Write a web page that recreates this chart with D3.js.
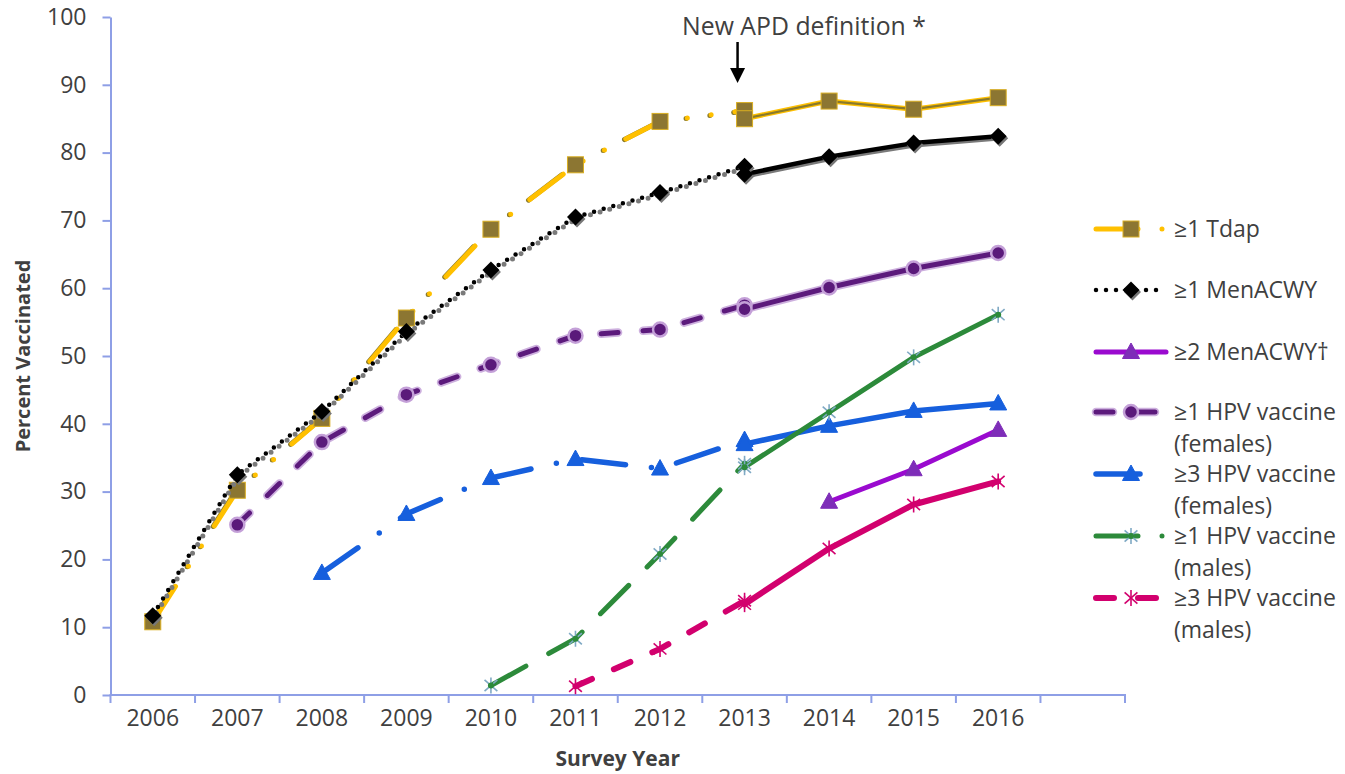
<!DOCTYPE html>
<html>
<head>
<meta charset="utf-8">
<script src="https://cdn.jsdelivr.net/npm/d3@7/dist/d3.min.js"></script>
<style>
  body { margin: 0; background: #ffffff; }
  text { font-family: "Open Sans", "Liberation Sans", sans-serif; fill: #404040; }
</style>
</head>
<body>
<svg id="chart" width="1345" height="774"></svg>
<script>
// ---------------- DATA ----------------
const years = ["2006","2007","2008","2009","2010","2011","2012","2013","2014","2015","2016"];
const categories = years.concat([" "]);          // one empty category at the right end
const yTickValues = [0,10,20,30,40,50,60,70,80,90,100];
const oldYears = years.slice(0, 8);               // 2006-2013, previous APD definition
const newYears = years.slice(7);                  // 2013-2016, new APD definition

const tdapOld   = [10.8, 30.2, 40.8, 55.6, 68.7, 78.2, 84.6, 86.2];
const tdapNew   = [85.0, 87.6, 86.4, 88.1];
const menOld    = [11.7, 32.5, 41.8, 53.6, 62.7, 70.5, 74.1, 78.0];
const menNew    = [76.8, 79.4, 81.4, 82.4];
const men2Years = ["2014","2015","2016"];
const men2New   = [28.5, 33.3, 39.1];
const hpvFOld   = [null, 25.1, 37.3, 44.3, 48.7, 53.0, 53.9, 57.5];
const hpvFNew   = [56.9, 60.1, 62.9, 65.2];
const hpv3FOld  = [null, null, 18.0, 26.7, 32.0, 34.8, 33.4, 37.6];
const hpv3FNew  = [37.0, 39.7, 41.9, 43.0];
const hpvMOld   = [null, null, null, null, 1.4, 8.3, 20.8, 34.1];
const hpvMNew   = [33.6, 41.7, 49.8, 56.1];
const hpv3MOld  = [null, null, null, null, null, 1.3, 6.8, 13.9];
const hpv3MNew  = [13.4, 21.6, 28.1, 31.5];

const legendLabels = [
  ["≥1 Tdap"],
  ["≥1 MenACWY"],
  ["≥2 MenACWY†"],
  ["≥1 HPV vaccine", "(females)"],
  ["≥3 HPV vaccine", "(females)"],
  ["≥1 HPV vaccine", "(males)"],
  ["≥3 HPV vaccine", "(males)"]
];
const annotationText = "New APD definition *";
const annotationYear = "2013";

// ---------------- SERIES STYLES ----------------
const zip = (ys, vs) => ys.map((yr, i) => ({ year: yr, v: vs[i] }));
const series = [
  { name: legendLabels[0], old: zip(oldYears, tdapOld), nw: zip(newYears, tdapNew),
    color: "#FFC000", core: "#8A7A2C", width: 5, dash: "42,24,0,24,0,24", marker: "square",
    mFill: "#8C7632", mStroke: "#D9AE22" },
  { name: legendLabels[1], old: zip(oldYears, menOld), nw: zip(newYears, menNew),
    color: "#000000", shadow: "#7a7a7a", width: 4.5, dash: "0,10", marker: "diamond",
    mFill: "#000000", mStroke: "#000000" },
  { name: legendLabels[2], old: [], nw: zip(men2Years, men2New),
    color: "#9A0ACF", width: 5, dash: null, marker: "triangle",
    mFill: "#7E2DB8", mStroke: "#7E2DB8" },
  { name: legendLabels[3], old: zip(oldYears, hpvFOld), nw: zip(newYears, hpvFNew),
    color: "#5C1A7C", glow: "#CDB0DE", width: 5, dash: "17,25", marker: "circle",
    mFill: "#5A1A7A", mStroke: "#C4A0D8" },
  { name: legendLabels[4], old: zip(oldYears, hpv3FOld), nw: zip(newYears, hpv3FNew),
    color: "#165FDD", width: 5.5, dash: "44,26,0,26", marker: "triangle",
    mFill: "#165FDD", mStroke: "#165FDD" },
  { name: legendLabels[5], old: zip(oldYears, hpvMOld), nw: zip(newYears, hpvMNew),
    color: "#2C8A3A", width: 5, dash: "40,26", legendDash: "42,24,0,30", marker: "star",
    mFill: "#2C8A3A", mStroke: "#7FA9C4" },
  { name: legendLabels[6], old: zip(oldYears, hpv3MOld), nw: zip(newYears, hpv3MNew),
    color: "#D2006E", width: 6, dash: "18,24", marker: "star",
    mFill: "#D2006E", mStroke: "#D2006E" }
];

// ---------------- LAYOUT ----------------
const svg = d3.select("#chart");
const axisColor = "#8E9FE6";
const plot = { left: 110.5, right: 1125, top: 17, bottom: 695 };

const x = d3.scaleBand().domain(categories).range([plot.left, plot.right]).paddingInner(0).paddingOuter(0);
const y = d3.scaleLinear().domain([0, 100]).range([plot.bottom, plot.top]);
const cx = yr => x(yr) + x.bandwidth() / 2;

// Y axis
const yAxis = svg.append("g").attr("transform", `translate(${plot.left},0)`)
  .call(d3.axisLeft(y).tickValues(yTickValues).tickSize(8).tickPadding(16).tickSizeOuter(0));
yAxis.select(".domain").attr("stroke", axisColor).attr("stroke-width", 2);
yAxis.selectAll(".tick line").attr("stroke", axisColor).attr("stroke-width", 2);
yAxis.selectAll(".tick text").attr("font-size", 23).attr("font-family", "Open Sans").attr("fill", "#404040");

// X axis (labels centered in bands, ticks on band boundaries)
const xAxis = svg.append("g").attr("transform", `translate(0,${plot.bottom})`)
  .call(d3.axisBottom(x).tickSize(0).tickPadding(15).tickSizeOuter(0));
xAxis.select(".domain").remove();
xAxis.selectAll(".tick text").attr("font-size", 23).attr("font-family", "Open Sans").attr("fill", "#404040");
const boundaries = categories.map(c => x(c)).concat([plot.right]);
svg.append("g").selectAll("line").data(boundaries).join("line")
  .attr("x1", d => d).attr("x2", d => d)
  .attr("y1", plot.bottom).attr("y2", plot.bottom + 8)
  .attr("stroke", axisColor).attr("stroke-width", 2);
svg.append("line").attr("x1", plot.left - 1).attr("x2", plot.right + 1)
  .attr("y1", plot.bottom).attr("y2", plot.bottom)
  .attr("stroke", axisColor).attr("stroke-width", 2);

// Axis titles
svg.append("text").attr("transform", `translate(30,${(plot.top + plot.bottom) / 2}) rotate(-90)`)
  .attr("text-anchor", "middle").attr("font-size", 20).attr("font-weight", "bold")
  .text("Percent Vaccinated");
svg.append("text").attr("x", (plot.left + plot.right) / 2).attr("y", 766)
  .attr("text-anchor", "middle").attr("font-size", 21).attr("font-weight", "bold")
  .text("Survey Year");

// ---------------- LINES ----------------
const line = d3.line().defined(d => d.v != null).x(d => cx(d.year)).y(d => y(d.v));

function drawPath(g, data, s, dash) {
  const pts = data.filter(d => d.v != null);
  if (pts.length < 2) return;
  const dstr = line(pts);
  const mk = (stroke, w, da, off, tr) => {
    const p = g.append("path").attr("d", dstr).attr("fill", "none")
      .attr("stroke", stroke).attr("stroke-width", w)
      .attr("stroke-linecap", "round").attr("stroke-linejoin", "round");
    if (da) p.attr("stroke-dasharray", da);
    if (off) p.attr("stroke-dashoffset", off);
    if (tr) p.attr("transform", tr);
    return p;
  };
  if (s.glow) mk(s.glow, s.width + 3.5, dash);
  if (s.shadow) mk(s.shadow, s.width + 0.5, dash, dash ? 5 : null, "translate(1.2,1.8)");
  if (s.core && dash) mk(s.core, s.width, dash, null, "translate(-1.3,0.6)");
  mk(s.color, s.width, dash);
  if (s.core && !dash) mk(s.core, 2.2, null);
}

function drawMarker(g, type, px, py, s) {
  if (type === "square") {
    g.append("rect").attr("x", px - 8).attr("y", py - 8).attr("width", 16).attr("height", 16)
      .attr("fill", s.mFill).attr("stroke", s.mStroke).attr("stroke-width", 1);
  } else if (type === "diamond") {
    const dpath = `M${px},${py - 8.5}L${px + 8.5},${py}L${px},${py + 8.5}L${px - 8.5},${py}Z`;
    g.append("path").attr("d", dpath).attr("fill", "#777").attr("transform", "translate(1.5,2)");
    g.append("path").attr("d", dpath).attr("fill", s.mFill);
  } else if (type === "circle") {
    g.append("circle").attr("cx", px).attr("cy", py).attr("r", 7)
      .attr("fill", s.mFill).attr("stroke", s.mStroke).attr("stroke-width", 2.5);
  } else if (type === "triangle") {
    g.append("path").attr("d", `M${px},${py - 9}L${px + 8.5},${py + 6.5}L${px - 8.5},${py + 6.5}Z`)
      .attr("fill", s.mFill).attr("stroke", s.mStroke).attr("stroke-width", 1);
  } else if (type === "star") {
    const r = 8;
    const segs = [[0, -r, 0, r], [-r * 0.8, -r * 0.7, r * 0.8, r * 0.7], [-r * 0.8, r * 0.7, r * 0.8, -r * 0.7]];
    g.selectAll(null).data(segs).join("line")
      .attr("x1", d => px + d[0]).attr("y1", d => py + d[1])
      .attr("x2", d => px + d[2]).attr("y2", d => py + d[3])
      .attr("stroke", s.mStroke).attr("stroke-width", 1.6);
    if (s.mStroke !== s.mFill) {
      g.append("circle").attr("cx", px).attr("cy", py).attr("r", 3).attr("fill", s.mFill);
    }
  }
}

const seriesG = svg.append("g");
series.forEach(s => {
  const g = seriesG.append("g");
  drawPath(g, s.old, s, s.dash);
  drawPath(g, s.nw, s, null);
  s.old.concat(s.nw).filter(d => d.v != null).forEach(d => drawMarker(g, s.marker, cx(d.year), y(d.v), s));
});

// ---------------- ANNOTATION ----------------
const ax = cx(annotationYear) - 7;
svg.append("text").attr("x", 804).attr("y", 35).attr("text-anchor", "middle")
  .attr("font-size", 24.8).text(annotationText);
svg.append("line").attr("x1", ax).attr("x2", ax).attr("y1", 42).attr("y2", 70)
  .attr("stroke", "#000").attr("stroke-width", 2.5);
svg.append("path").attr("d", `M${ax - 7.5},68L${ax + 7.5},68L${ax},83Z`).attr("fill", "#000");

// ---------------- LEGEND ----------------
const legendRows = [229, 290, 352, 412, 474, 536, 598];
const lg = svg.append("g");
series.forEach((s, i) => {
  const ly = legendRows[i];
  const g = lg.append("g");
  const lineData = [{ px: 1096, py: ly }, { px: 1166, py: ly }];
  const ld = d3.line().x(d => d.px).y(d => d.py)(lineData);
  const da = s.legendDash || s.dash;
  if (s.glow) g.append("path").attr("d", ld).attr("stroke", s.glow).attr("stroke-width", s.width + 3.5)
      .attr("stroke-linecap", "round").attr("stroke-dasharray", da).attr("fill", "none");
  const p = g.append("path").attr("d", ld).attr("stroke", s.color).attr("stroke-width", s.width)
      .attr("stroke-linecap", "round").attr("fill", "none");
  if (da) p.attr("stroke-dasharray", da);
  drawMarker(g, s.marker, 1131, ly, s);
  s.name.forEach((t, j) => {
    g.append("text").attr("x", 1174).attr("y", ly + j * 31.5).attr("dy", "0.36em")
      .attr("font-size", 23).text(t);
  });
});
</script>
</body>
</html>
